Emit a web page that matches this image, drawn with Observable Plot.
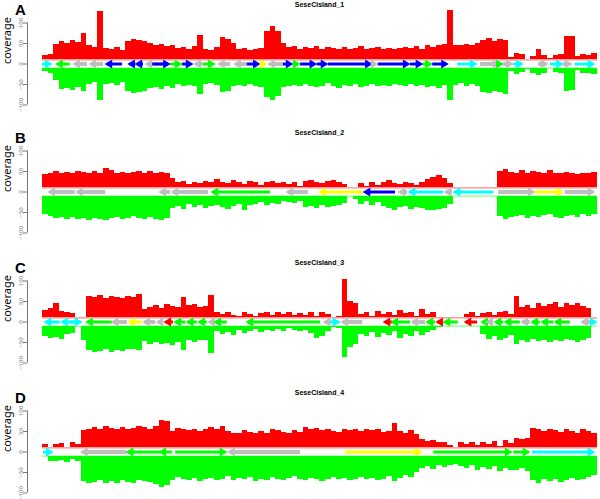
<!DOCTYPE html>
<html><head><meta charset="utf-8">
<script src="https://cdn.jsdelivr.net/npm/d3@7"></script>
<script src="https://cdn.jsdelivr.net/npm/@observablehq/plot@0.6"></script>
<style>
body{margin:0;background:#fff;width:600px;height:499px;overflow:hidden;font-family:"Liberation Sans",Arial,sans-serif;}
#chart{position:relative;width:600px;height:499px;overflow:hidden;}
.panel{position:absolute;left:0;width:600px;height:125px;}
.panel svg{position:absolute;left:0;top:0;}
.letter{position:absolute;left:15px;top:1px;font-size:15px;line-height:17px;font-weight:bold;color:#000;}
.title{position:absolute;left:42px;width:555px;top:1px;text-align:center;font-size:7px;line-height:8px;font-weight:bold;color:#000;}
</style></head><body><div id="chart"></div>
<script>
const panelLetters = ["A", "B", "C", "D"];
const islandNames = ["SeseCisland_1", "SeseCisland_2", "SeseCisland_3", "SeseCisland_4"];
const yTicks = [-100, -50, 0, 50, 100];

// coverage per bin (100 bins along each island), plus strand (up) and minus strand (down)
const plusA = [20,24,48,55,50,57,53,74,45,40,128,38,36,40,34,55,60,58,55,50,45,48,42,46,38,40,36,42,70,35,34,40,65,60,50,36,38,34,36,38,80,92,80,50,40,42,36,40,38,42,36,40,38,36,40,35,38,42,36,38,40,36,38,35,38,40,38,42,36,44,40,46,48,130,46,44,48,46,50,58,62,56,60,58,15,25,22,12,18,35,20,14,20,24,68,66,18,22,20,25];
const minusA = [18,22,40,62,60,64,58,66,50,46,88,50,48,52,46,68,72,70,66,60,58,62,55,60,50,55,52,56,75,50,48,52,70,66,55,52,56,50,54,58,82,88,80,58,55,52,56,50,54,58,55,48,56,60,52,55,50,58,54,50,56,52,55,50,52,56,50,54,52,58,55,60,52,88,52,48,55,50,54,70,72,68,70,74,18,26,20,14,22,28,24,12,20,24,66,64,16,22,24,26];
const plusB = [42,46,50,44,48,45,50,47,44,49,46,58,52,46,48,44,47,50,46,49,44,47,45,34,22,26,18,24,20,26,22,30,24,20,28,22,18,26,24,16,22,25,20,24,18,22,14,26,28,24,20,26,28,22,18,0,12,20,14,22,16,24,28,20,18,24,20,16,22,30,36,40,34,20,0,0,0,0,0,0,0,0,50,55,48,46,52,44,50,47,45,52,46,44,48,45,42,46,44,48];
const minusB = [55,60,64,62,66,63,68,65,70,64,66,70,65,62,66,64,60,65,68,63,66,70,64,40,36,42,30,38,34,40,36,32,38,42,36,30,44,34,30,26,32,28,30,24,26,28,24,38,36,40,34,38,36,32,28,0,18,30,22,34,26,36,40,44,38,36,42,38,40,44,46,42,40,30,0,0,0,0,0,0,0,0,60,66,62,60,58,64,60,62,58,56,62,64,60,58,62,56,60,54];
const plusC = [28,32,46,26,24,20,0,12,62,60,64,58,62,60,58,62,60,66,30,36,40,34,42,38,36,60,40,42,36,38,65,22,18,24,16,14,22,18,14,20,24,16,22,18,24,16,20,16,22,14,24,18,12,14,104,50,46,18,22,14,26,18,24,16,28,20,24,14,30,18,22,12,0,0,0,0,18,22,14,20,24,16,22,26,18,62,36,40,32,44,38,42,48,36,44,40,46,38,34,0];
const minusC = [35,40,38,42,30,28,0,45,70,74,72,68,75,70,72,68,66,70,48,54,50,56,52,58,50,70,46,50,44,45,78,22,30,26,34,20,28,22,18,26,20,24,18,22,16,20,24,20,28,40,36,24,14,16,87,62,56,30,36,26,38,28,34,24,40,30,36,22,32,26,20,14,0,0,0,0,0,0,0,30,42,36,45,40,34,55,46,50,42,48,44,50,46,48,42,46,50,44,40,0];
const plusD = [18,0,18,20,12,22,18,52,56,60,54,62,58,56,60,55,58,62,60,56,62,78,74,50,58,54,52,56,50,54,60,56,62,50,44,46,52,48,44,50,46,56,52,48,46,52,48,60,55,58,52,56,50,48,56,52,54,50,56,52,54,48,50,70,50,46,52,42,30,26,28,24,22,16,12,22,18,24,16,22,18,26,14,28,20,32,30,34,58,54,50,56,52,48,54,50,46,54,50,44];
const minusD = [0,22,24,20,26,18,24,72,78,74,70,76,72,78,70,74,76,70,72,74,80,86,82,70,62,66,70,64,72,68,64,70,66,60,70,64,68,62,72,66,70,62,66,70,64,60,66,70,64,68,72,66,62,68,64,70,66,62,68,64,70,66,60,72,64,58,62,50,40,36,42,34,38,32,30,36,40,34,44,38,42,36,48,40,46,44,40,48,70,76,68,72,66,74,70,64,70,66,62,58];

// genes: [from, to, class] in % of island length; arrow points from -> to
const genesA = [[0,1.8,"c"],[5.0,2.3,"n"],[8.1,5.4,"g"],[11.0,8.3,"g"],[14.4,11.2,"b"],[16.8,15.3,"b"],[18.2,16.6,"b"],[22.5,18.4,"g"],[19.5,23.1,"b"],[23.1,25.2,"n"],[25.2,27.2,"b"],[29.0,27.2,"g"],[29.0,31.2,"n"],[33.9,31.5,"g"],[36.9,34.4,"g"],[36.9,39.3,"b"],[39.3,40.5,"y"],[43.4,40.5,"g"],[43.4,45.2,"b"],[45.2,46.5,"n"],[46.5,49.5,"b"],[49.5,51.5,"b"],[51.5,59.5,"b"],[59.5,60.5,"g"],[60.5,66.3,"b"],[66.3,68.6,"b"],[68.6,70.3,"n"],[70.3,73.2,"b"],[74.8,78.4,"c"],[78.9,82.5,"g"],[82.5,83.1,"n"],[83.1,84.9,"g"],[84.9,86.7,"c"],[89.4,91.2,"g"],[91.5,93.9,"c"],[93.9,95.5,"g"],[96.0,99.6,"c"]];
const genesB = [[5.9,0.9,"g"],[11.4,5.9,"g"],[23.1,20.9,"g"],[29.9,23.1,"g"],[41.1,30.3,"n"],[47.9,43.8,"g"],[57.8,49.7,"y"],[63.6,57.7,"b"],[65.8,64.0,"g"],[72.3,65.8,"c"],[73.9,72.3,"g"],[81.3,73.9,"c"],[82.2,88.8,"g"],[88.8,93.9,"y"],[94.2,99.6,"g"]];
const genesC = [[3.2,0.2,"c"],[5.9,3.2,"c"],[5.0,7.2,"c"],[12.6,7.7,"n"],[15.3,12.3,"g"],[18.0,15.3,"y"],[20.4,18.0,"g"],[21.8,20.4,"g"],[23.6,21.8,"r"],[25.8,23.6,"n"],[27.9,25.8,"n"],[29.7,27.9,"n"],[30.8,29.7,"g"],[33.3,30.8,"n"],[50.1,36.6,"n"],[51.9,50.5,"g"],[51.9,53.7,"c"],[57.7,53.7,"g"],[63.1,61.3,"r"],[66.3,62.7,"n"],[69.0,66.3,"g"],[70.8,69.0,"n"],[72.3,70.8,"r"],[74.9,72.1,"n"],[78.4,75.9,"r"],[80.2,78.9,"n"],[81.3,79.8,"g"],[83.1,81.3,"n"],[86.1,83.1,"n"],[87.9,86.1,"g"],[89.7,87.9,"n"],[92.1,89.7,"n"],[95.1,92.1,"n"],[98.7,96.9,"g"],[98.7,100,"c"]];
const genesD = [[0.2,2.0,"c"],[15.3,6.8,"g"],[21.3,15.0,"n"],[23.4,20.9,"n"],[24.0,33.3,"n"],[46.5,33.3,"g"],[54.6,68.5,"y"],[70.5,84.7,"n"],[84.9,87.9,"n"],[88.3,99.6,"c"]];

const classColor = {g: "#bebebe", b: "#0000ff", n: "#00ff00", c: "#00ffff", y: "#ffff00", r: "#ff0000"};

const panels = [
  {plus: plusA, minus: minusA, genes: genesA},
  {plus: plusB, minus: minusB, genes: genesB},
  {plus: plusC, minus: minusC, genes: genesC},
  {plus: plusD, minus: minusD, genes: genesD}
];
const tops = [0, 128, 258, 388];
const BASE = 10;

const chart = document.getElementById("chart");
panels.forEach((p, k) => {
  const div = document.createElement("div");
  div.className = "panel";
  div.style.top = tops[k] + "px";
  const idx = d3.range(p.plus.length);
  const upIdx = idx.filter(i => p.plus[i] > BASE);
  const dnIdx = idx.filter(i => p.minus[i] > BASE);
  const right = p.genes.filter(g => g[1] > g[0]);
  const left = p.genes.filter(g => g[1] < g[0]);
  const svg = Plot.plot({
    width: 600, height: 125,
    marginLeft: 27, marginRight: 3, marginTop: 0, marginBottom: 0,
    x: {domain: [-2.7, 100], axis: null},
    y: {domain: [-150, 154.9], axis: null},
    color: {type: "identity"},
    style: {background: "transparent", overflow: "visible"},
    marks: [
      Plot.rect(upIdx, {x1: i => i, x2: i => i + 1, y1: BASE, y2: i => p.plus[i], fill: "#ff0000", shapeRendering: "crispEdges"}),
      Plot.rect(dnIdx, {x1: i => i, x2: i => i + 1, y1: -BASE, y2: i => -p.minus[i], fill: "#00ff00", shapeRendering: "crispEdges"}),
      Plot.ruleY([BASE], {x1: 0, x2: 100, stroke: "#ff0000", strokeOpacity: 0.6}),
      Plot.ruleY([-BASE], {x1: 0, x2: 100, stroke: "#00ff00", strokeOpacity: 0.6}),
      Plot.ruleY(p.genes, {y: () => 0, x1: g => g[0], x2: g => g[1] - Math.sign(g[1] - g[0]) * 0.5, stroke: g => classColor[g[2]], strokeWidth: g => g[2] === "g" ? 4 : 3}),
      Plot.dot(right, {x: g => g[1], y: () => 0, symbol: "triangle", r: 3.3, rotate: 90, dx: -5, fill: g => classColor[g[2]], stroke: null}),
      Plot.dot(left, {x: g => g[1], y: () => 0, symbol: "triangle", r: 3.3, rotate: -90, dx: 5, fill: g => classColor[g[2]], stroke: null}),
      Plot.ruleX([-2.7], {y1: -100, y2: 100, stroke: "#777"}),
      Plot.axisY({anchor: "left", ticks: yTicks, tickSize: 4, tickPadding: 1, tickRotate: -90, fontSize: 6, label: null, color: "#777"}),
      Plot.text(["coverage"], {frameAnchor: "left", y: [0], dx: -20.5, rotate: -90, fontSize: 11, fill: "#000"})
    ]
  });
  div.append(svg);
  const letter = document.createElement("div");
  letter.className = "letter";
  letter.textContent = panelLetters[k];
  div.append(letter);
  const title = document.createElement("div");
  title.className = "title";
  title.textContent = islandNames[k];
  div.append(title);
  chart.append(div);
});
</script></body></html>
